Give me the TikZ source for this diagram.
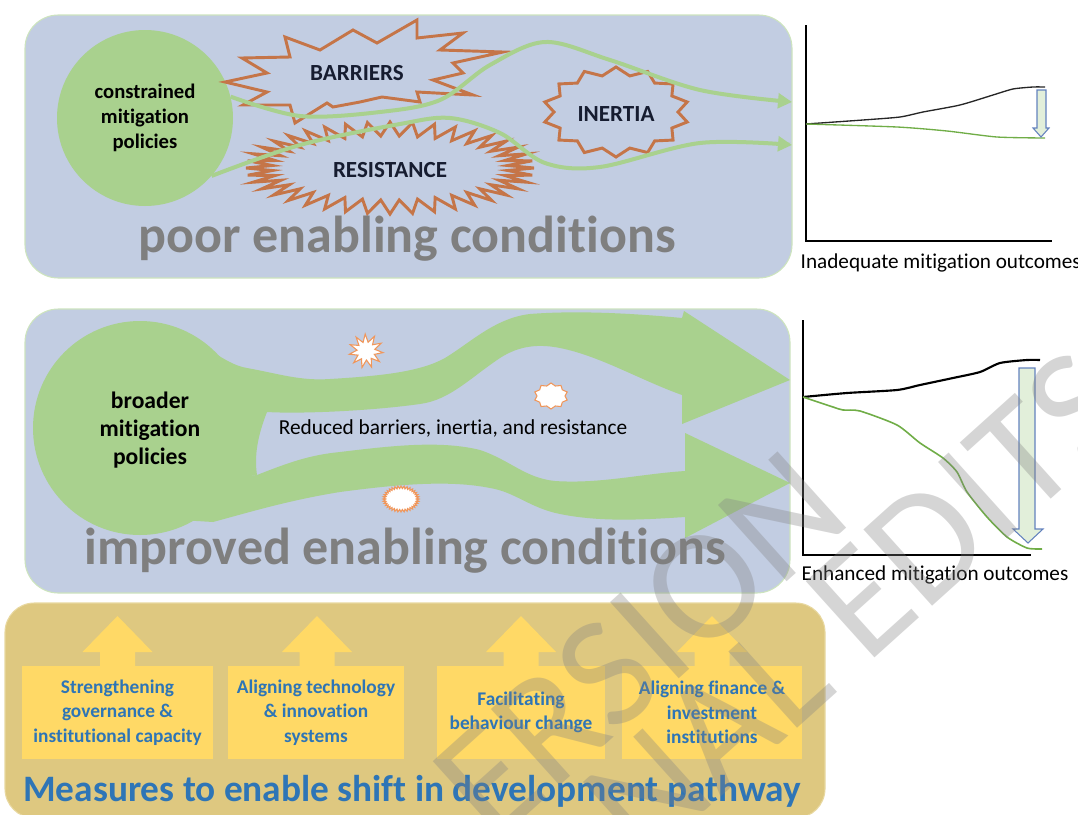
\documentclass[tikz,border=0pt]{standalone}
\usepackage{fontspec}
\setmainfont{Carlito}[Ligatures=NoCommon]
\usetikzlibrary{arrows.meta}
\definecolor{panelblue}{RGB}{194,205,226}
\definecolor{paneledge}{RGB}{205,228,190}
\definecolor{leaf}{RGB}{169,209,142}
\definecolor{grass}{RGB}{112,173,71}
\definecolor{rust}{RGB}{197,117,72}
\definecolor{navy}{RGB}{22,28,48}
\definecolor{midgray}{RGB}{127,127,127}
\definecolor{tan}{RGB}{222,200,128}
\definecolor{tanedge}{RGB}{232,216,160}
\definecolor{sun}{RGB}{255,217,102}
\definecolor{ink}{RGB}{46,117,182}
\definecolor{flame}{RGB}{240,150,90}
\definecolor{palegreen}{RGB}{226,239,218}
\definecolor{steel}{RGB}{100,130,190}
\newcommand{\spiky}[9]{%
  \pgfmathtruncatemacro{\spikylast}{2*#8-1}%
  \draw[#1] ({#2+#4*cos(#9)},{#3+#5*sin(#9)})
    \foreach \k in {1,...,\spikylast}{
      -- ({#2+ifthenelse(mod(\k,2)==1,#6,#4)*cos(#9+\k*180/#8)},{#3+ifthenelse(mod(\k,2)==1,#7,#5)*sin(#9+\k*180/#8)})
    } -- cycle;}
\begin{document}
\begin{tikzpicture}[x=0.75pt,y=-0.75pt,
  panel/.style={fill=panelblue,draw=paneledge,line width=0.8pt,rounded corners=25pt},
  thinflow/.style={draw=leaf,line width=3pt,-{Triangle[length=10.5pt,width=11pt]}},
  ctext/.style={font=\bfseries\fontsize{15.5}{19}\selectfont,align=center,text=black},
  btext/.style={font=\bfseries\fontsize{17.7}{21}\selectfont,align=center,text=black},
  starlabel/.style={font=\bfseries\fontsize{17.3}{20}\selectfont,text=navy},
  bigcond/.style={font=\bfseries\fontsize{39}{44}\selectfont,text=midgray,anchor=base},
  outcome/.style={font=\fontsize{15.9}{19}\selectfont,text=black,anchor=base west},
  measurebox/.style={fill=sun,minimum height=69.75pt,inner sep=0pt,font=\bfseries\fontsize{14.5}{18.4}\selectfont,text=ink,align=center},
  uparrow/.style={fill=sun},
  blockarrow/.style={fill=palegreen,draw=steel,line width=0.8pt},
  axis/.style={draw=black,line width=1.2pt},
  watermark/.style={font=\fontsize{120}{120}\selectfont,text=black!50,text opacity=0.33,rotate=42}
]
\useasboundingbox (0,0) rectangle (1078,814);

% ---------- top panel ----------
\draw[panel] (25,15) rectangle (792,278);
\node[circle,fill=leaf,minimum size=132pt,inner sep=0pt] (cmp) at (145,118) {};
\node[ctext] (cmptext) at (145,118) {constrained\\mitigation\\policies};

% BARRIERS star
\draw[rust,line width=2.2pt,line join=miter] (225,82) -- (267,73) -- (242,58) -- (290,57) -- (285,37) -- (320,50) -- (353,30) -- (377,43) -- (417,20) -- (417,38) -- (463,33) -- (440,50) -- (503,52) -- (453,63) -- (463,73) -- (433,80) -- (473,95) -- (417,92) -- (420,102) -- (382,97) -- (360,102) -- (333,107) -- (327,103) -- (295,123) -- (290,105) -- (243,105) -- (267,92) -- cycle;
\node[starlabel] (barr) at (357,73) {BARRIERS};
% RESISTANCE star
\spiky{rust,line width=2.2pt,line join=miter}{390}{168}{144}{46}{118}{32}{40}{0}
\node[starlabel] (resi) at (390,170) {RESISTANCE};
% INERTIA star
\spiky{rust,line width=2.2pt,line join=miter}{616}{112}{73}{45}{62}{37}{14}{90}
\node[starlabel] (iner) at (616,114) {INERTIA};

\coordinate (ga) at (792,102);
\coordinate (gb) at (792,145);
\draw[thinflow] plot[smooth,tension=0.55] coordinates {(cmp.14) (300,116) (380,112) (440,100) (490,65) (545,42) (610,60) (700,90) (ga)};
\draw[thinflow] plot[smooth,tension=0.55] coordinates {(cmp.-41) (300,145) (400,124) (450,118) (500,133) (545,163) (600,167) (700,143) (gb)};

\node[bigcond] (poor) at (407,252) {poor enabling conditions};

% ---------- graph 1 ----------
\draw[axis] (806,25) -- (806,241) -- (1052,241);
\draw[black!85,line width=1pt] plot[smooth,tension=0.4] coordinates {(806,124) (863,120) (900,117) (923,112) (960,105) (993,95) (1013,89) (1033,87) (1045,87)};
\draw[grass,line width=1pt] plot[smooth,tension=0.4] coordinates {(806,124) (897,127) (947,131) (997,137) (1045,138)};
\draw[blockarrow] (1037,90) -- (1046,90) -- (1046,128) -- (1049,128) -- (1041,137) -- (1033,128) -- (1037,128) -- cycle;
\node[outcome] (inad) at (796,268) {Inadequate mitigation outcomes};

% ---------- middle panel ----------
\draw[panel] (25,309) rectangle (790,593);
\node[circle,fill=leaf,minimum size=160.5pt,inner sep=0pt] (bmp) at (140,428) {};
\fill[leaf] (205,347) .. controls (225,360) and (235,366) .. (247,368)
  .. controls (280,374) and (300,381) .. (330,379)
  .. controls (380,376) and (420,372) .. (445,358)
  .. controls (470,343) and (495,318) .. (530,314)
  .. controls (580,310) and (640,314) .. (682,318)
  -- (684,311) -- (790,380) -- (682,424) -- (682,395)
  .. controls (640,380) and (600,356) .. (560,348)
  .. controls (540,344) and (520,345) .. (500,358)
  .. controls (470,378) and (450,400) .. (420,404)
  .. controls (370,411) and (300,414) .. (267,412)
  -- (225,412) -- cycle;
\fill[leaf] (230,478) -- (257,475) .. controls (290,462) and (310,455) .. (340,452)
  .. controls (390,446) and (440,440) .. (480,450)
  .. controls (510,460) and (525,478) .. (555,481)
  .. controls (600,484) and (640,474) .. (685,471)
  -- (685,433) -- (790,483) -- (685,538) -- (685,517)
  .. controls (640,520) and (600,522) .. (560,514)
  .. controls (530,508) and (515,492) .. (490,488)
  .. controls (450,480) and (400,484) .. (340,492)
  .. controls (290,500) and (250,512) .. (213,522)
  -- (180,520) -- (190,500) -- cycle;
\fill[leaf] (225,380) -- (267,412) .. controls (258,435) and (254,455) .. (257,475) -- (225,480) -- cycle;
\node[btext] (bmptext) at (150,430) {broader\\mitigation\\policies};
\node[font=\fontsize{16}{19}\selectfont,text=black] (reduced) at (453,428) {Reduced barriers, inertia, and resistance};

\spiky{fill=white,draw=flame,line width=0.8pt}{366}{351}{17}{17}{9}{9}{11}{-60}
\spiky{fill=white,draw=flame,line width=0.8pt}{551}{396}{17}{13}{14}{10.5}{10}{90}
\spiky{fill=white,draw=flame,line width=0.8pt}{401}{499}{18}{13}{15.5}{10.5}{36}{0}

\node[bigcond] (impr) at (405,564) {improved enabling conditions};

% ---------- graph 2 ----------
\draw[axis] (803,320) -- (803,555) -- (1031,555);
\draw[black,line width=1.6pt] plot[smooth,tension=0.4] coordinates {(803,397) (847,393) (897,390) (920,385) (953,378) (980,372) (1000,363) (1027,360) (1040,360)};
\draw[grass,line width=1.2pt] plot[smooth,tension=0.4] coordinates {(803,397) (833,407) (843,410) (860,411) (897,425) (920,443) (943,458) (957,472) (967,492) (987,517) (1007,537) (1027,548) (1042,549)};
\draw[blockarrow] (1019,368) -- (1035,368) -- (1035,529) -- (1043,529) -- (1028,543) -- (1013,529) -- (1019,529) -- cycle;
\node[outcome] (enh) at (797,580) {Enhanced mitigation outcomes};

% ---------- bottom panel ----------
\draw[fill=tan,draw=tanedge,line width=0.8pt,rounded corners=22pt] (5,603) rectangle (825,818);
\node[measurebox,minimum width=143.25pt] (m1) at (117.5,712.5) {Strengthening\\governance \&\\institutional capacity};
\node[measurebox,minimum width=132pt] (m2) at (316,712.5) {Aligning technology\\\& innovation\\systems};
\node[measurebox,minimum width=126pt] (m3) at (521,712.5) {Facilitating\\behaviour change};
\node[measurebox,minimum width=135pt] (m4) at (712,712.5) {Aligning finance \&\\investment\\institutions};
\foreach \m/\cx in {m1/117.5,m2/317,m3/521,m4/712}{
  \fill[uparrow] (\cx-17.5,666.5) -- (\cx-17.5,652) -- (\cx-35,652) -- (\cx,616) -- (\cx+35,652) -- (\cx+17.5,652) -- (\cx+17.5,666.5) -- cycle;
}
\node[font=\bfseries\fontsize{28}{32}\selectfont,text=ink,anchor=base] (meas) at (412,801) {Measures to enable shift in development pathway};

% ---------- watermark ----------
\node[watermark] (wm1) at (640,645) {ERSION};
\node[watermark] (wm2) at (857,605) {NAL EDITS};
\end{tikzpicture}
\end{document}
